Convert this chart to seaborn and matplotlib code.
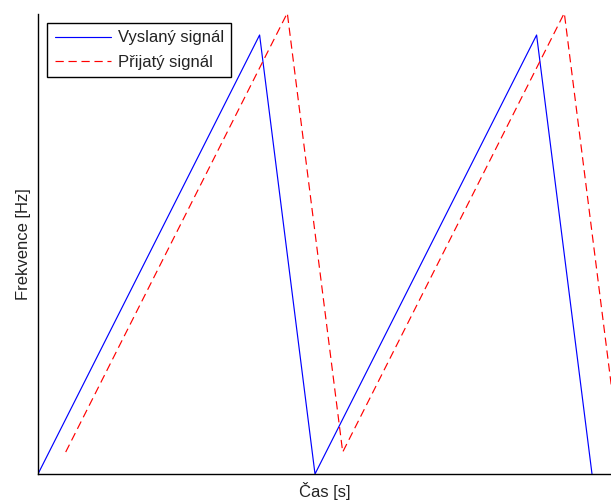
import matplotlib
matplotlib.use("Agg")
import matplotlib.pyplot as plt
import seaborn as sns
import pandas as pd

# Data (normalized time in sweep periods, normalized frequency)
t_tx = [0.0, 0.8, 1.0, 1.8, 2.0]
f_tx = [0.0, 1.0, 0.0, 1.0, 0.0]
t_rx = [0.1, 0.9, 1.1, 1.9, 2.1]
f_rx = [0.05, 1.05, 0.05, 1.05, 0.05]
labels = ["Vyslaný signál", "Přijatý signál"]
xlabel = "Čas [s]"
ylabel = "Frekvence [Hz]"

sns.set_style("white")
plt.rcParams['font.family'] = ['Liberation Sans', 'DejaVu Sans']

W, H = 611, 500
fig = plt.figure(figsize=(W / 100, H / 100), dpi=100)
ax = fig.add_axes([38 / W, 26 / H, (W - 38) / W, 460 / H])

df_tx = pd.DataFrame({"t": t_tx, "f": f_tx})
df_rx = pd.DataFrame({"t": t_rx, "f": f_rx})

sns.lineplot(data=df_tx, x="t", y="f", ax=ax, color=(0, 0, 1), lw=0.85,
             sort=False, estimator=None, label=labels[0])
sns.lineplot(data=df_rx, x="t", y="f", ax=ax, color=(1, 0, 0), lw=0.85,
             sort=False, estimator=None, label=labels[1],
             linestyle=(0, (7, 4)))

ax.set_xlim(0, (W - 38) / 277)
ax.set_ylim(0, 460 / 439)
ax.set_xticks([])
ax.set_yticks([])
for s in ["top", "right"]:
    ax.spines[s].set_visible(False)
for s in ["left", "bottom"]:
    ax.spines[s].set_color("black")
    ax.spines[s].set_linewidth(1.0)

ax.set_xlabel(xlabel, fontsize=12, labelpad=6, color="#222222")
ax.set_ylabel(ylabel, fontsize=12, labelpad=5, color="#222222")

leg = ax.legend(loc="upper left", bbox_to_anchor=(9 / 573, 1 - 9 / 460),
                borderaxespad=0, fontsize=12, frameon=True, fancybox=False,
                edgecolor="black", framealpha=1, handlelength=3.4,
                handletextpad=0.4, labelspacing=0.55, borderpad=0.45)
leg.get_frame().set_linewidth(1.0)
for t in leg.get_texts():
    t.set_color("#222222")

fig.savefig("out.png", dpi=100)
